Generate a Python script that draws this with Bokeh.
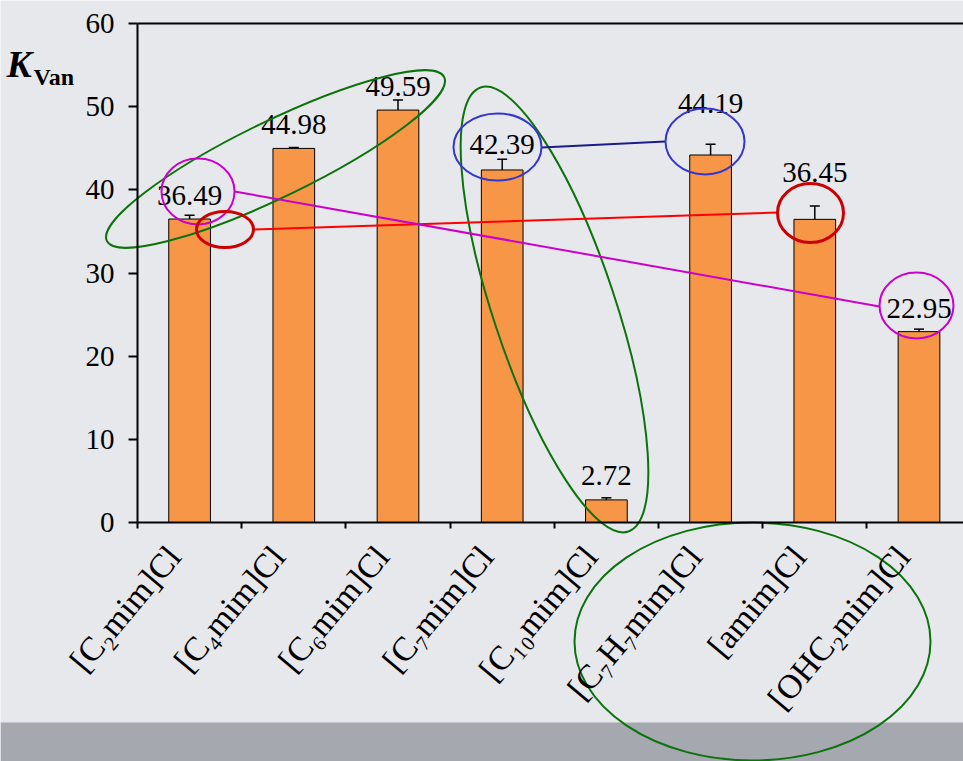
import math
from bokeh.plotting import figure
from bokeh.models import Range1d, LinearAxis, FixedTicker, ColumnDataSource, Whisker, TeeHead
from bokeh.core.properties import value
from bokeh.embed import file_html
from bokeh.resources import INLINE

# ---------------- data ----------------
categories = ["[C₂mim]Cl", "[C₄mim]Cl", "[C₆mim]Cl", "[C₇mim]Cl",
              "[C₁₀mim]Cl", "[C₇H₇mim]Cl", "[amim]Cl", "[OHC₂mim]Cl"]
k_van = [36.49, 44.98, 49.59, 42.39, 2.72, 44.19, 36.45, 22.95]
k_err = [0.45, 0.1, 1.2, 1.3, 0.25, 1.3, 1.6, 0.3]
y_ticks = [0, 10, 20, 30, 40, 50, 60]

# ---------------- layout (pixels) ----------------
W, H = 963, 761
AXIS_X = 137          # pixel column of the y axis
TOP_PX = 23           # pixel row of y = 60
ZERO_PX = 522         # pixel row of y = 0
CAT_PX = 104.2        # width of one category in pixels
BAND_TOP = 722
LABEL_SHIFT = 0.15    # category labels anchored slightly left of bar centres
LABEL_ANGLE = math.radians(50)
label_lift = [24, 24, 24, 25, 24, 51, 47, 23]   # px of value labels above bar tops

FONT_NAME = "Liberation Serif"
FONT = value(FONT_NAME)
BG = "#e7e8ec"

py_per_unit = (ZERO_PX - TOP_PX) / 60.0
x_start = -0.5 - AXIS_X / CAT_PX
x_end = x_start + W / CAT_PX
y_end = 60 + TOP_PX / py_per_unit
y_start = y_end - H / py_per_unit


def dx(px):
    return x_start + px / CAT_PX


def dy(py):
    return y_end - py / py_per_unit


p = figure(width=W, height=H, x_range=Range1d(x_start, x_end), y_range=Range1d(y_start, y_end),
           x_axis_type=None, y_axis_type=None, output_backend="svg", toolbar_location=None,
           min_border=0)
p.outline_line_color = None
p.background_fill_color = BG
p.border_fill_color = BG

xs = list(range(len(categories)))

# bottom grey band
p.quad(left=[x_start], right=[x_end], bottom=[y_start], top=[dy(BAND_TOP)],
       fill_color="#a5a8ae", line_color=None)

# bars
src = ColumnDataSource(dict(
    x=xs, top=k_van,
    upper=[v + e for v, e in zip(k_van, k_err)],
    lower=[v - e for v, e in zip(k_van, k_err)],
    lab=[f"{v:.2f}" for v in k_van],
    lift=[-l for l in label_lift],
))
p.vbar(x="x", top="top", bottom=0, width=0.4, source=src,
       fill_color="#f79646", line_color="#000000", line_width=1)

p.add_layout(Whisker(base="x", upper="upper", lower="lower", source=src,
                     line_color="#000000", line_width=1.5,
                     upper_head=TeeHead(size=10, line_color="#000000", line_width=1.5),
                     lower_head=TeeHead(size=10, line_color="#000000", line_width=1.5)))

p.text(x="x", y="top", text="lab", source=src, y_offset="lift",
       text_font=FONT, text_font_size="29px", text_align="center",
       text_baseline="alphabetic", text_color="#000000")

# axes
yax = LinearAxis(fixed_location=-0.5, ticker=FixedTicker(ticks=y_ticks), bounds=(0, 60),
                 axis_line_width=2, axis_line_color="#000000",
                 major_tick_line_width=2, major_tick_line_color="#000000",
                 major_tick_out=9, major_tick_in=0, minor_tick_out=0, minor_tick_in=0,
                 major_label_standoff=14, major_label_text_font=FONT_NAME,
                 major_label_text_font_size="29px", major_label_text_color="#000000")
p.add_layout(yax, "left")

label_ticks = [i - LABEL_SHIFT for i in xs]
boundaries = [i - 0.5 for i in range(len(categories) + 1)]
xax = LinearAxis(fixed_location=0,
                 ticker=FixedTicker(ticks=label_ticks, minor_ticks=boundaries),
                 bounds=(-0.5, len(categories) + 0.5),
                 major_label_overrides={t: c for t, c in zip(label_ticks, categories)},
                 major_label_orientation=LABEL_ANGLE,
                 axis_line_width=2, axis_line_color="#000000",
                 major_tick_line_color=None, major_tick_out=0, major_tick_in=0,
                 minor_tick_line_width=2, minor_tick_line_color="#000000",
                 minor_tick_out=6, minor_tick_in=0,
                 major_label_standoff=22, major_label_text_font=FONT_NAME,
                 major_label_text_font_size="34px", major_label_text_color="#000000")
p.add_layout(xax, "below")

# top border of the plot box
p.segment(x0=[-0.5], y0=[60], x1=[x_end], y1=[60], line_color="#000000", line_width=2)

# y axis title  K_Van
p.text(x=[dx(6)], y=[dy(63)], text=["K"], text_font=FONT, text_font_size="38px",
       text_font_style="bold italic", text_baseline="alphabetic", text_color="#000000")
p.text(x=[dx(33)], y=[dy(76)], text=["Van"], text_font=FONT, text_font_size="24px",
       text_font_style="bold", text_baseline="alphabetic", text_color="#000000")

# ---------------- hand-drawn annotations ----------------
GREEN = "#0b730b"
MAGENTA = "#cc00cc"
RED = "#ff0000"
DRED = "#cc0000"
BLUE = "#3535cf"
NAVY = "#1c1c8a"


def ell(cx, cy, w, h, ang, color, lw=2):
    p.ellipse(x=[dx(cx)], y=[dy(cy)], width=[w], height=[h], angle=[math.radians(ang)],
              width_units="screen", height_units="screen",
              fill_color=None, line_color=color, line_width=lw)


def seg(ax, ay, bx, by, color, lw=2):
    p.line(x=[dx(ax), dx(bx)], y=[dy(ay), dy(by)], line_color=color, line_width=lw)


ell(275, 158.5, 375, 76, 25.9, GREEN)
ell(554, 309, 468, 122, 108.4, GREEN)
ell(752, 641, 356, 238, 0, GREEN)

seg(253, 229, 777, 212, RED)
seg(234, 191, 879, 306, MAGENTA)
seg(541, 147, 665, 141, NAVY)

ell(197.5, 191, 73, 66, 0, MAGENTA)
ell(916, 305, 74, 66, 0, MAGENTA)
ell(224.5, 229, 57, 36, 0, DRED, 3)
ell(810, 212.5, 66, 59, 0, DRED, 3)
ell(497, 146.5, 88, 67, 0, BLUE)
ell(704.5, 141, 79, 66, 0, BLUE)

open("out.html", "w").write(file_html(p, INLINE))
